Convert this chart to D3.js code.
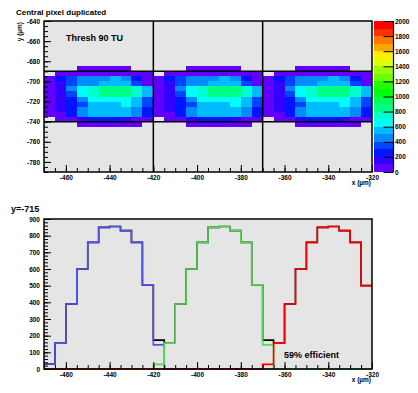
<!DOCTYPE html>
<html>
<head>
<meta charset="utf-8">
<script src="https://cdn.jsdelivr.net/npm/d3@7/dist/d3.min.js"></script>
<style>
  body { margin: 0; background: #fff; }
  text { font-family: "Liberation Sans", Arial, sans-serif; font-weight: bold; }
</style>
</head>
<body>
<div id="chart"></div>
<script>
const W = 418, H = 393;

// ---- data ----
// one pixel map (5x5 um cells), drawn three times side by side
const copyStarts = [-470, -420, -370];
const colOffsets = [0, 5, 10, 15, 20, 25, 30, 35, 40, 45];
const rowTops = [-685, -690, -695, -700, -705, -710, -715, -720, -725, -730, -735, -740];
const cellCounts = [
  [null, null, null, 40, 40, 40, 40, 40, null, null],
  [null, 40, 40, 40, 40, 60, 60, 40, 40, 40],
  [40, 250, 350, 450, 450, 450, 550, 450, 250, 40],
  [40, 150, 350, 450, 450, 550, 550, 550, 350, 40],
  [40, 150, 450, 650, 750, 850, 860, 850, 750, 550],
  [30, 155, 390, 600, 760, 850, 855, 830, 760, 505],
  [40, 150, 250, 450, 650, 650, 650, 650, 550, 350],
  [40, 150, 250, 350, 550, 550, 550, 650, 550, 350],
  [40, 150, 250, 450, 550, 550, 550, 550, 450, 250],
  [40, 40, 250, 450, 550, 550, 550, 550, 450, 250],
  [null, 40, 40, 150, 250, 250, 250, 150, 40, 40],
  [null, null, null, 40, 40, 40, 40, 40, 40, null]
];
const pixelEdgesX = [-420, -370];
const pixelEdgesY = [-690, -740];

const paletteLevels = d3.range(100, 2000, 100);
const paletteColors = [
  "#6200ff", "#3300ff", "#0014ff", "#0044ff", "#008bff", "#00bbff", "#00fffc",
  "#00ffcc", "#00ff85", "#00ff55", "#00ff0e", "#22ff00", "#69ff00", "#99ff00",
  "#e0ff00", "#ffee00", "#ffa700", "#ff7700", "#ff3000", "#ff0000"
];

// y = -715 slice, 5 um bins starting at -470
const binStarts = d3.range(-470, -320, 5);
const blueCounts  = [30,155,390,600,760,850,855,830,760,505,145,0,0,0,0,0,0,0,0,0,0,0,0,0,0,0,0,0,0,0];
const greenCounts = [0,0,0,0,0,0,0,0,0,0,28,155,390,600,760,850,855,830,760,505,145,0,0,0,0,0,0,0,0,0];
const redCounts   = [0,0,0,0,0,0,0,0,0,0,0,0,0,0,0,0,0,0,0,0,28,155,390,600,760,850,855,830,760,500];
const totalCounts = [30,155,390,600,760,850,855,830,760,505,173,155,390,600,760,850,855,830,760,505,173,155,390,600,760,850,855,830,760,500];

const svg = d3.select("#chart").append("svg")
  .attr("width", W).attr("height", H);
svg.append("rect").attr("width", W).attr("height", H).attr("fill", "#fff");

const frameFill = "#e5e5e5";
const plain = d => String(d);
const x = d3.scaleLinear().domain([-470, -320]).range([44, 372]);

// =====================
// TOP: pixel map
// =====================
const yTop = d3.scaleLinear().domain([-790, -640]).range([172, 21]);
const color = d3.scaleThreshold().domain(paletteLevels).range(paletteColors);

svg.append("rect")
  .attr("x", 44).attr("y", 21).attr("width", 328).attr("height", 151)
  .attr("fill", frameFill);

const cells = [];
copyStarts.forEach(c => rowTops.forEach((r, i) => colOffsets.forEach((o, j) => {
  const v = cellCounts[i][j];
  if (v !== null) cells.push({ x0: c + o, y0: r, v });
})));

svg.append("g").selectAll("rect")
  .data(cells)
  .join("rect")
  .attr("x", d => x(d.x0))
  .attr("y", d => yTop(d.y0))
  .attr("width", d => x(d.x0 + 5) - x(d.x0))
  .attr("height", d => yTop(d.y0 - 5) - yTop(d.y0))
  .attr("fill", d => color(d.v))
  .attr("shape-rendering", "crispEdges");

svg.append("g").selectAll("line.vx")
  .data(pixelEdgesX).join("line")
  .attr("x1", d => x(d)).attr("x2", d => x(d))
  .attr("y1", 21).attr("y2", 172)
  .attr("stroke", "#000").attr("stroke-width", 1.5);

svg.append("g").selectAll("line.hy")
  .data(pixelEdgesY).join("line")
  .attr("x1", 44).attr("x2", 372)
  .attr("y1", d => yTop(d)).attr("y2", d => yTop(d))
  .attr("stroke", "#000").attr("stroke-width", 1.5);

function styleAxis(g) {
  g.select(".domain").remove();
  g.selectAll("line").attr("stroke", "#000");
  g.selectAll("text").style("font-size", "6.5px").attr("fill", "#000");
}

// axes of top panel
svg.append("g").attr("transform", "translate(44,0)")
  .call(d3.axisLeft(yTop).tickValues(d3.range(-780, -639, 20)).tickFormat(plain).tickSize(-7).tickPadding(4))
  .call(styleAxis);
svg.append("g").attr("transform", "translate(44,0)")
  .call(d3.axisLeft(yTop).tickValues(d3.range(-790, -639, 5)).tickSize(-4).tickFormat(""))
  .call(styleAxis);
svg.append("g").attr("transform", "translate(0,172)")
  .call(d3.axisBottom(x).tickValues(d3.range(-460, -319, 20)).tickFormat(plain).tickSize(-7).tickPadding(3))
  .call(styleAxis);
svg.append("g").attr("transform", "translate(0,172)")
  .call(d3.axisBottom(x).tickValues(d3.range(-470, -319, 5)).tickSize(-4).tickFormat(""))
  .call(styleAxis);

svg.append("rect")
  .attr("x", 44).attr("y", 21).attr("width", 328).attr("height", 151)
  .attr("fill", "none").attr("stroke", "#000").attr("stroke-width", 1.5);

// colour bar
const zScale = d3.scaleLinear().domain([0, 2000]).range([172, 21]);
svg.append("g").selectAll("rect")
  .data(paletteColors)
  .join("rect")
  .attr("x", 374).attr("width", 19.5)
  .attr("y", (d, i) => zScale((i + 1) * 100))
  .attr("height", (d, i) => zScale(i * 100) - zScale((i + 1) * 100))
  .attr("fill", d => d)
  .attr("shape-rendering", "crispEdges");
svg.append("g").attr("transform", "translate(393.5,0)")
  .call(d3.axisRight(zScale).tickValues(d3.range(0, 2001, 200)).tickFormat(plain).tickSize(-10).tickPadding(1.5))
  .call(styleAxis);
svg.append("line")
  .attr("x1", 393.5).attr("x2", 393.5).attr("y1", 21).attr("y2", 172)
  .attr("stroke", "#000").attr("stroke-width", 1.2);

// texts
svg.append("text").attr("x", 16).attr("y", 15).style("font-size", "8px").text("Central pixel duplicated");
svg.append("text").attr("x", 66).attr("y", 41).style("font-size", "9px").text("Thresh 90 TU");
svg.append("text")
  .attr("transform", "translate(22,22) rotate(-90)")
  .attr("text-anchor", "end")
  .style("font-size", "6.5px").text("y (\u00b5m)");
svg.append("text").attr("x", 371).attr("y", 185).attr("text-anchor", "end")
  .style("font-size", "6.5px").text("x (\u00b5m)");

// =====================
// BOTTOM: slice at y = -715
// =====================
const yBot = d3.scaleLinear().domain([0, 900]).range([369, 219]);

svg.append("rect")
  .attr("x", 44).attr("y", 219).attr("width", 328).attr("height", 150)
  .attr("fill", frameFill);

const step = d3.line()
  .x(d => x(d[0]))
  .y(d => yBot(d[1]))
  .curve(d3.curveStepAfter);

const series = [
  { counts: totalCounts, color: "#000" },
  { counts: blueCounts, color: "#5252e8" },
  { counts: greenCounts, color: "#55d855" },
  { counts: redCounts, color: "#ff0000" }
];

svg.append("g").selectAll("path")
  .data(series)
  .join("path")
  .attr("d", s => {
    const pts = binStarts.map((b, i) => [b, s.counts[i]]);
    pts.push([-320, s.counts[s.counts.length - 1]]);
    return step(pts);
  })
  .attr("fill", "none")
  .attr("stroke", s => s.color)
  .attr("stroke-width", 1.6);

svg.append("g").attr("transform", "translate(44,0)")
  .call(d3.axisLeft(yBot).tickValues(d3.range(0, 901, 100)).tickFormat(plain).tickSize(-7).tickPadding(4))
  .call(styleAxis);
svg.append("g").attr("transform", "translate(44,0)")
  .call(d3.axisLeft(yBot).tickValues(d3.range(0, 901, 20)).tickSize(-4).tickFormat(""))
  .call(styleAxis);
svg.append("g").attr("transform", "translate(0,369)")
  .call(d3.axisBottom(x).tickValues(d3.range(-460, -319, 20)).tickFormat(plain).tickSize(-7).tickPadding(3))
  .call(styleAxis);
svg.append("g").attr("transform", "translate(0,369)")
  .call(d3.axisBottom(x).tickValues(d3.range(-470, -319, 5)).tickSize(-4).tickFormat(""))
  .call(styleAxis);

svg.append("rect")
  .attr("x", 44).attr("y", 219).attr("width", 328).attr("height", 150)
  .attr("fill", "none").attr("stroke", "#000").attr("stroke-width", 1.5);

svg.append("text").attr("x", 11).attr("y", 212).style("font-size", "9px").text("y=-715");
svg.append("text").attr("x", 284).attr("y", 358).style("font-size", "9px").text("59% efficient");
svg.append("text").attr("x", 371).attr("y", 382).attr("text-anchor", "end")
  .style("font-size", "6.5px").text("x (\u00b5m)");
</script>
</body>
</html>
